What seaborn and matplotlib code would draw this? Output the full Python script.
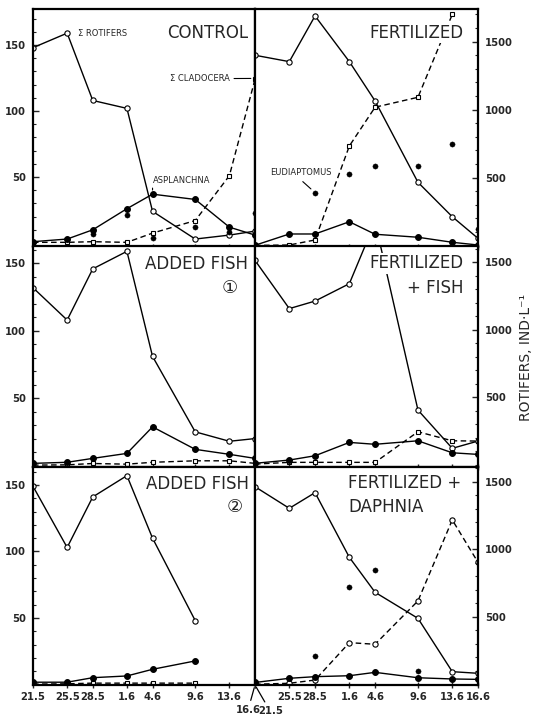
import numpy as np
import pandas as pd
import matplotlib
matplotlib.use("Agg")
import matplotlib.pyplot as plt
from matplotlib.ticker import MultipleLocator
import seaborn as sns

sns.set_style("white")
plt.rcParams['font.family'] = ['DejaVu Sans', 'Noto Sans CJK JP']

# ---------------- data ----------------
days = [0, 4, 7, 11, 14, 19, 23, 26]
date_labels = ["21.5", "25.5", "28.5", "1.6", "4.6", "9.6", "13.6", "16.6"]
nan = np.nan

# CONTROL (left scale)
ctrl_rotifers = [148, 159, 108, 102, 24, 3, 6, 9]
ctrl_cladocera = [0.5, 0.5, 1, 0.5, 7.5, 17, 51, 124]
ctrl_asplanchna = [1, 3, 10, 26, 37, 33, 12, 6]
ctrl_eudiaptomus = [nan, nan, 7, 21, 4, 12, 8, 23]

# FERTILIZED (right scale)
fert_rotifers = [1400, 1353, 1689, 1353, 1064, 466, 213, 54]
fert_cladocera = [2, 5, 42, 733, 1018, 1091, 1700, nan]
fert_asplanchna = [3, 86, 86, 176, 84, 62, 25, 5]
fert_eudiaptomus = [nan, nan, 390, 527, 588, 588, 745, 120]

# ADDED FISH 1 (left scale)
fish1_rotifers = [132, 108, 146, 159, 81, 25, 18, 20]
fish1_cladocera = [0.3, 0.5, 1.5, 1, 2.4, 3.5, 3.5, 1.6]
fish1_asplanchna = [1.6, 2.4, 5.3, 9, 28.7, 12, 8.3, 5.3]

# FERTILIZED + FISH (right scale)
ffish_rotifers = [1515, 1157, 1213, 1342, 1800, 404, 120, 174]
ffish_cladocera = [3, 16, 16, 16, 16, 243, 176, 174]
ffish_asplanchna = [9, 33, 65, 164, 150, 176, 87, 75]

# ADDED FISH 2 (left scale)
fish2_rotifers = [149, 103, 141, 157, 110, 48, nan, nan]
fish2_cladocera = [0.3, 0.5, 1, 1, 1, 1, nan, nan]
fish2_asplanchna = [1.7, 1.7, 5.1, 6.4, 11.4, 17.7, nan, nan]

# FERTILIZED + DAPHNIA (right scale)
fdaph_rotifers = [1465, 1305, 1421, 942, 683, 490, 95, 83]
fdaph_cladocera = [2, 9, 33, 310, 298, 619, 1219, 905]
fdaph_asplanchna = [15, 46, 58, 65, 90, 50, 41, 38]
fdaph_eudiaptomus = [nan, nan, 211, 724, 848, 100, nan, nan]

y_label = "ROTIFERS, IND·L⁻¹"

# ---------------- layout ----------------
W, H = 536, 715
fig = plt.figure(figsize=(W / 100, H / 100), dpi=100)

def rect(x0, x1, y0, y1):
    return [x0 / W, 1 - y1 / H, (x1 - x0) / W, (y1 - y0) / H]

rows = [(9, 246.5), (246.5, 467), (467, 685)]
lx, rx = (33, 255), (255, 478)
left_ylims = [(-2.65, 177.3), (-1.1, 162.6), (-0.4, 163.5)]
right_ylims = [(-6, 1740), (-18.5, 1618), (-3.7, 1611)]

axes = []
for r, (y0, y1) in enumerate(rows):
    axL = fig.add_axes(rect(lx[0], lx[1], y0, y1))
    axR = fig.add_axes(rect(rx[0], rx[1], y0, y1))
    axes.append((axL, axR))

def style_axis(ax, side, ylim, bottom_row):
    ax.set_xlim(0, 26)
    ax.set_ylim(*ylim)
    for s in ax.spines.values():
        s.set_visible(True)
        s.set_linewidth(1.6)
        s.set_color("black")
    ax.set_xticks(days)
    if bottom_row:
        ax.set_xticklabels(date_labels)
    else:
        ax.set_xticklabels([])
    ax.tick_params(axis='x', direction='inout', length=4, width=1,
                   labelsize=7.2, pad=3, bottom=True, top=False)
    if side == 'left':
        ax.yaxis.tick_left()
        ax.set_yticks([50, 100, 150])
        ax.yaxis.set_minor_locator(MultipleLocator(10))
    else:
        ax.yaxis.tick_right()
        ax.set_yticks([500, 1000, 1500])
        ax.yaxis.set_minor_locator(MultipleLocator(100))
    ax.tick_params(axis='y', which='major', direction='in', length=4, width=1,
                   labelsize=7.2, pad=5)
    ax.tick_params(axis='y', which='minor', direction='in', length=2.5, width=0.8)
    for lab in ax.get_xticklabels() + ax.get_yticklabels():
        lab.set_fontweight('bold')
    ax.set_xlabel("")
    ax.set_ylabel("")

def draw_lines(ax, rot, clad, asp, eud=None, clad_marker='s'):
    df = pd.DataFrame({"day": days, "rot": rot, "clad": clad, "asp": asp})
    sns.lineplot(data=df, x="day", y="clad", ax=ax, color="black", lw=1.0,
                 linestyle=(0, (4, 2.5)), marker=clad_marker,
                 markersize=3.2 if clad_marker == 's' else 3.8,
                 markerfacecolor="white", markeredgecolor="black",
                 markeredgewidth=0.8, zorder=2)
    sns.lineplot(data=df, x="day", y="rot", ax=ax, color="black", lw=1.0,
                 marker="o", markersize=3.8, markerfacecolor="white",
                 markeredgecolor="black", markeredgewidth=0.8, zorder=2.2)
    sns.lineplot(data=df, x="day", y="asp", ax=ax, color="black", lw=1.0,
                 marker="o", markersize=4.2, markerfacecolor="black",
                 markeredgecolor="black", zorder=2.4)
    if eud is not None:
        de = pd.DataFrame({"day": days, "eud": eud}).dropna()
        sns.scatterplot(data=de, x="day", y="eud", ax=ax, color="black",
                        s=14, edgecolor="black", zorder=2.5, legend=False)

# Row 1
axL, axR = axes[0]
draw_lines(axL, ctrl_rotifers, ctrl_cladocera, ctrl_asplanchna, ctrl_eudiaptomus)
draw_lines(axR, fert_rotifers, fert_cladocera, fert_asplanchna, fert_eudiaptomus)
# Row 2
axL, axR = axes[1]
draw_lines(axL, fish1_rotifers, fish1_cladocera, fish1_asplanchna)
draw_lines(axR, ffish_rotifers, ffish_cladocera, ffish_asplanchna)
# Row 3
axL, axR = axes[2]
draw_lines(axL, fish2_rotifers, fish2_cladocera, fish2_asplanchna)
draw_lines(axR, fdaph_rotifers, fdaph_cladocera, fdaph_asplanchna,
           fdaph_eudiaptomus, clad_marker='o')

for r, (axL, axR) in enumerate(axes):
    style_axis(axL, 'left', left_ylims[r], r == 2)
    style_axis(axR, 'right', right_ylims[r], r == 2)

# bottom row special labels
axL, axR = axes[2]
axL.set_xticklabels(date_labels[:-1] + [""], fontweight='bold')
axR.set_xticklabels([""] + date_labels[1:], fontweight='bold')
axL.annotate("16.6", xy=(26, 0), xycoords=('data', 'axes fraction'),
             xytext=(-5, -18), textcoords='offset points', ha='center',
             va='center', fontsize=7.2, fontweight='bold',
             arrowprops=dict(arrowstyle='-', lw=0.9, color='black',
                             shrinkA=1, shrinkB=2))
axR.annotate("21.5", xy=(0, 0), xycoords=('data', 'axes fraction'),
             xytext=(11, -19), textcoords='offset points', ha='center',
             va='center', fontsize=7.2, fontweight='bold',
             arrowprops=dict(arrowstyle='-', lw=0.9, color='black',
                             shrinkA=1, shrinkB=2))

# ---------------- panel titles ----------------
tbox = dict(facecolor='white', edgecolor='none', pad=1)
big = 12

axL, axR = axes[0]
axL.text(0.968, 0.899, "CONTROL", transform=axL.transAxes, ha='right',
         va='center', fontsize=big, bbox=tbox, zorder=5)
axR.text(0.933, 0.899, "FERTILIZED", transform=axR.transAxes, ha='right',
         va='center', fontsize=big, bbox=tbox, zorder=5)

axL, axR = axes[1]
axL.text(0.968, 0.919, "ADDED FISH", transform=axL.transAxes, ha='right',
         va='center', fontsize=big, bbox=tbox, zorder=5)
axL.text(0.887, 0.81, "①", transform=axL.transAxes, ha='center',
         va='center', fontsize=13, zorder=5)
axR.text(0.933, 0.923, "FERTILIZED", transform=axR.transAxes, ha='right',
         va='center', fontsize=big, bbox=tbox, zorder=5)
axR.text(0.933, 0.814, "+ FISH", transform=axR.transAxes, ha='right',
         va='center', fontsize=big, bbox=tbox, zorder=5)

axL, axR = axes[2]
axL.text(0.973, 0.922, "ADDED FISH", transform=axL.transAxes, ha='right',
         va='center', fontsize=big, bbox=tbox, zorder=5)
axL.text(0.91, 0.817, "②", transform=axL.transAxes, ha='center',
         va='center', fontsize=13, zorder=5)
axR.text(0.417, 0.927, "FERTILIZED +", transform=axR.transAxes, ha='left',
         va='center', fontsize=big, bbox=tbox, zorder=5)
axR.text(0.417, 0.817, "DAPHNIA", transform=axR.transAxes, ha='left',
         va='center', fontsize=big, bbox=tbox, zorder=5)

# ---------------- series annotations ----------------
small = 6
axL, axR = axes[0]
axL.text(5.3, 159, "Σ ROTIFERS", ha='left', va='center', fontsize=small)
axL.annotate("Σ CLADOCERA", xy=(26, 124.7), xytext=(23.0, 124.5),
             ha='right', va='center', fontsize=small,
             arrowprops=dict(arrowstyle='-', lw=0.8, color='black',
                             shrinkA=1, shrinkB=3))
axL.annotate("ASPLANCHNA", xy=(14, 37), xytext=(14.0, 47.5),
             ha='left', va='center', fontsize=small,
             arrowprops=dict(arrowstyle='-', lw=0.8, color='black',
                             shrinkA=0, shrinkB=3, relpos=(0, 0)))
axR.annotate("EUDIAPTOMUS", xy=(7, 390), xytext=(1.8, 535),
             ha='left', va='center', fontsize=small,
             arrowprops=dict(arrowstyle='-', lw=0.8, color='black',
                             shrinkA=1, shrinkB=4, relpos=(0.45, 0)))

fig.text(526 / W, 1 - 357 / H, y_label, rotation=90, ha='center',
         va='center', fontsize=10)

fig.savefig("out.png", dpi=100)
